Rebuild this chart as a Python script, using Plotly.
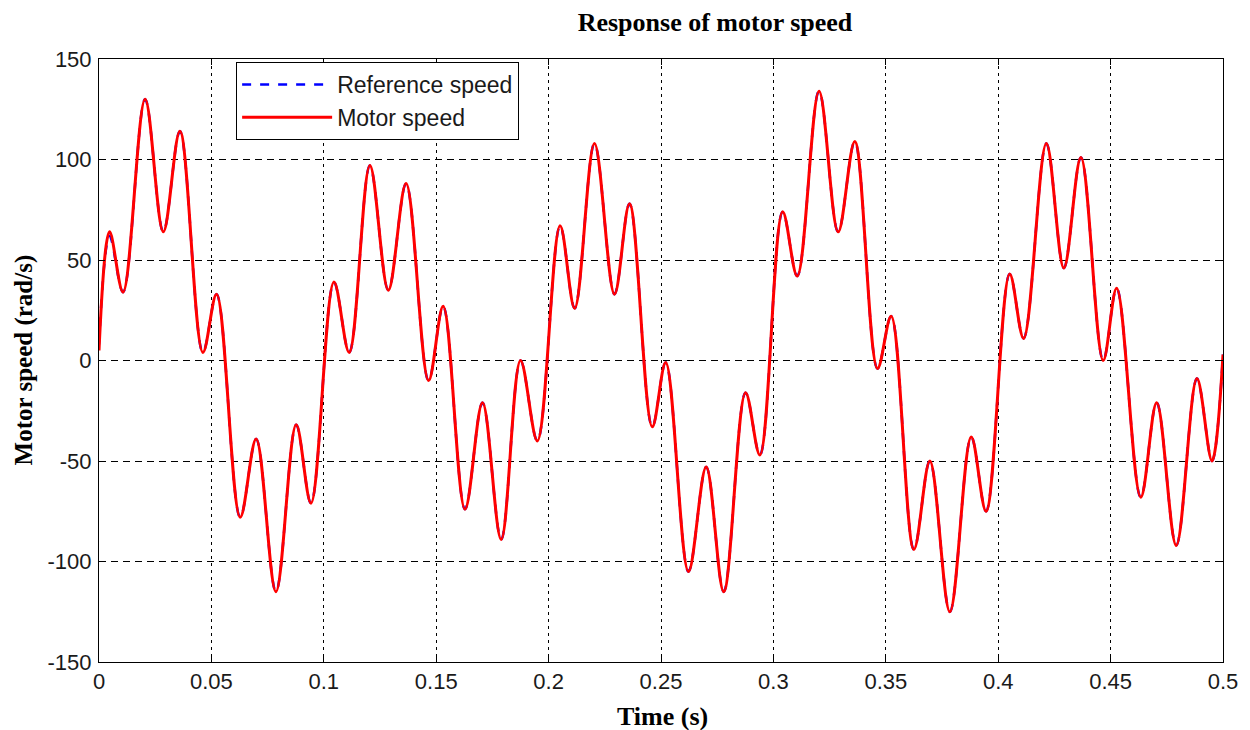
import plotly.graph_objects as go

# Extrema (time in s, speed in rad/s)
time_s = [0, 0.0047, 0.0107, 0.0205, 0.0286, 0.0360, 0.0462, 0.0523, 0.0628, 0.0699, 0.0787, 0.0877, 0.0943,
          0.1045, 0.1113, 0.1205, 0.1287, 0.1366, 0.1466, 0.1531, 0.1628, 0.1706, 0.1789, 0.1875, 0.1950,
          0.2051, 0.2116, 0.2204, 0.2293, 0.2360, 0.2461, 0.2521, 0.2622, 0.2701, 0.2779, 0.2876, 0.2940,
          0.3041, 0.3106, 0.3203, 0.3288, 0.3362, 0.3463, 0.3524, 0.3625, 0.3696, 0.3785, 0.3880, 0.3946,
          0.4051, 0.4113, 0.4214, 0.4292, 0.4368, 0.4467, 0.4527, 0.4634, 0.4705, 0.4792, 0.4884, 0.4951, 0.5]

motor_speed = [5, 64, 34, 130, 64, 114, 4, 33, -78, -39, -115, -32, -71,
               39, 4, 97, 35, 88, -10, 27, -74, -21, -89, 0, -40,
               67, 26, 108, 33, 78, -33, -1, -105, -53, -115, -16, -47,
               74, 42, 134, 64, 109, -4, 22, -94, -50, -125, -38, -75,
               43, 11, 108, 46, 101, 0, 36, -68, -21, -92, -9, -50, 3]

reference_speed = [8, 62, 34, 130, 64, 114, 4, 33, -78, -39, -115, -32, -71,
                   39, 4, 97, 35, 88, -10, 27, -74, -21, -89, 0, -40,
                   67, 26, 108, 33, 78, -33, -1, -105, -53, -115, -16, -47,
                   74, 42, 134, 64, 109, -4, 22, -94, -50, -125, -38, -75,
                   43, 11, 108, 46, 101, 0, 36, -68, -21, -92, -9, -50, 3]

x_tick_vals = [0, 0.05, 0.1, 0.15, 0.2, 0.25, 0.3, 0.35, 0.4, 0.45, 0.5]
x_tick_text = ["0", "0.05", "0.1", "0.15", "0.2", "0.25", "0.3", "0.35", "0.4", "0.45", "0.5"]
y_tick_vals = [-150, -100, -50, 0, 50, 100, 150]
y_tick_text = ["-150", "-100", "-50", "0", "50", "100", "150"]

SANS = "Liberation Sans, Arial, sans-serif"
SERIF = "Liberation Serif, Times New Roman, serif"

fig = go.Figure()
fig.add_trace(go.Scatter(
    x=time_s, y=reference_speed, mode="lines", name="Reference speed",
    line=dict(color="#0000ff", width=2.5, dash="dash", shape="spline", smoothing=1.0),
))
fig.add_trace(go.Scatter(
    x=time_s, y=motor_speed, mode="lines", name="Motor speed",
    line=dict(color="#ff0000", width=3, shape="spline", smoothing=1.0),
))

axis_common = dict(
    showline=True, linecolor="black", linewidth=1, mirror="allticks",
    ticks="inside", ticklen=6, tickcolor="black", tickwidth=1,
    showgrid=True, gridcolor="black", gridwidth=1,
    zeroline=False,
    tickfont=dict(family=SANS, size=22, color="#1a1a1a"),
)

fig.update_xaxes(
    range=[0, 0.5], tickvals=x_tick_vals, ticktext=x_tick_text,
    griddash="3px,4px", **axis_common,
)
fig.update_yaxes(
    range=[-150, 150], tickvals=y_tick_vals, ticktext=y_tick_text,
    griddash="7px,5px", ticklabelstandoff=2, **axis_common,
)

fig.update_layout(
    width=1250, height=730,
    margin=dict(l=99, r=22, t=59, b=68),
    paper_bgcolor="white", plot_bgcolor="white",
    title=dict(
        text="<b>Response of motor speed</b>",
        font=dict(family=SERIF, size=26, color="black"),
        x=0.572, xref="container", xanchor="center",
        y=1 - 22 / 730, yref="container", yanchor="middle",
    ),
    legend=dict(
        x=0.122, y=0.995, xanchor="left", yanchor="top",
        bgcolor="white", bordercolor="black", borderwidth=1,
        font=dict(family=SANS, size=23, color="#1a1a1a"),
        itemwidth=90, tracegroupgap=0,
    ),
    annotations=[
        dict(text="<b>Time (s)</b>", xref="paper", yref="paper",
             x=0.501, y=-0.0912, xanchor="center", yanchor="middle",
             showarrow=False, font=dict(family=SERIF, size=26, color="black")),
        dict(text="<b>Motor speed (rad/s)</b>", xref="paper", yref="paper",
             x=-0.0664, y=0.5008, xanchor="center", yanchor="middle", textangle=-90,
             showarrow=False, font=dict(family=SERIF, size=25, color="black")),
    ],
)

fig.write_html("out.html")
